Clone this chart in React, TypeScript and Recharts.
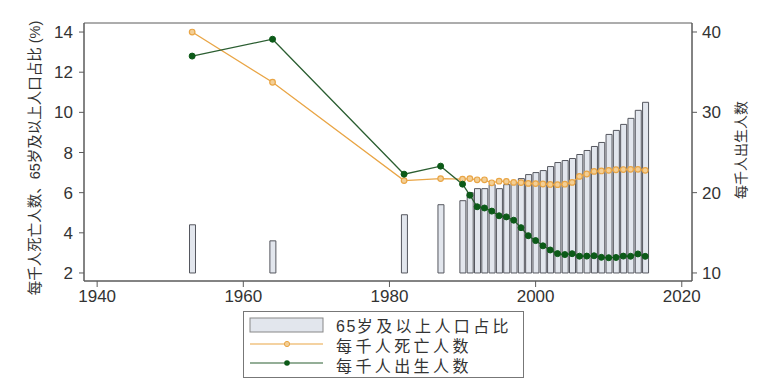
import React from "react";
import {
  ComposedChart,
  Bar,
  Line,
  XAxis,
  YAxis,
  ReferenceArea,
} from "recharts";

const years = [1953, 1964, 1982, 1987, 1990, 1991, 1992, 1993, 1994, 1995, 1996, 1997, 1998, 1999, 2000, 2001, 2002, 2003, 2004, 2005, 2006, 2007, 2008, 2009, 2010, 2011, 2012, 2013, 2014, 2015];
const agedShare = [4.4, 3.6, 4.9, 5.4, 5.6, 6.0, 6.2, 6.2, 6.4, 6.2, 6.4, 6.5, 6.7, 6.9, 7.0, 7.1, 7.3, 7.5, 7.6, 7.7, 7.9, 8.1, 8.3, 8.5, 8.9, 9.1, 9.4, 9.7, 10.1, 10.5];
const deathRate = [14.0, 11.5, 6.6, 6.7, 6.67, 6.7, 6.64, 6.64, 6.49, 6.57, 6.56, 6.51, 6.5, 6.46, 6.45, 6.43, 6.41, 6.4, 6.42, 6.51, 6.81, 6.93, 7.06, 7.08, 7.11, 7.14, 7.15, 7.16, 7.16, 7.11];
const birthRate = [37.0, 39.1, 22.3, 23.3, 21.06, 19.68, 18.24, 18.09, 17.7, 17.12, 16.98, 16.57, 15.64, 14.64, 14.03, 13.38, 12.86, 12.41, 12.29, 12.4, 12.09, 12.1, 12.14, 11.95, 11.9, 11.93, 12.1, 12.08, 12.37, 12.07];

const xTicks = [1940, 1960, 1980, 2000, 2020];
const leftTicks = [2, 4, 6, 8, 10, 12, 14];
const rightTicks = [10, 20, 30, 40];

const seriesNames = ["65岁及以上人口占比", "每千人死亡人数", "每千人出生人数"];
const leftLabel = "每千人死亡人数、65岁及以上人口占比 (%)";
const rightLabel = "每千人出生人数";

const data = years.map((y, i) => ({
  year: y,
  aged: agedShare[i],
  death: deathRate[i],
  birth: birthRate[i],
}));

const X_DOMAIN: [number, number] = [1938.2, 2021.4];
const L_DOMAIN: [number, number] = [1.6, 14.45];
const R_DOMAIN: [number, number] = [9.0, 41.12];

const BAR_FILL = "#e2e6ed";
const BAR_STROKE = "#55575f";
const ORANGE = "#e9a545";
const ORANGE_FILL = "#f3cf96";
const GREEN = "#2b5e31";
const GREEN_DOT = "#0c5a18";
const AXIS = "#5a5a5a";
const TEXT = "#333";
const FONT = "'Liberation Sans', Arial, 'Noto Sans CJK SC', sans-serif";

const digitsPart = seriesNames[0].slice(0, 2);
const cjkPart = seriesNames[0].slice(2);

const LegendBox = () => (
  <svg width={282} height={68} style={{ display: "block" }}>
    <rect x={0.5} y={0.5} width={280} height={66} fill="#fff" stroke="#777" />
    <rect x={7} y={7} width={73} height={14} fill={BAR_FILL} stroke="#888" />
    <line x1={7} y1={33} x2={80} y2={33} stroke={ORANGE} strokeWidth={1.2} />
    <circle cx={44} cy={33} r={2.6} fill={ORANGE_FILL} stroke={ORANGE} strokeWidth={1} />
    <line x1={7} y1={52} x2={80} y2={52} stroke={GREEN} strokeWidth={1.2} />
    <circle cx={44} cy={52} r={2.8} fill={GREEN_DOT} />
    <text x={93} y={21} fontSize={16} fill={TEXT} fontFamily={FONT}>
      <tspan letterSpacing={1.5}>{digitsPart}</tspan>
      <tspan letterSpacing={3.4}>{cjkPart}</tspan>
    </text>
    <text x={93} y={41} fontSize={16} fill={TEXT} fontFamily={FONT} letterSpacing={3.4}>{seriesNames[1]}</text>
    <text x={93} y={61} fontSize={16} fill={TEXT} fontFamily={FONT} letterSpacing={3.4}>{seriesNames[2]}</text>
  </svg>
);

const OrangeDot = (props: any) => {
  const { cx, cy } = props;
  if (cx == null || cy == null) return null;
  return <circle cx={cx} cy={cy} r={2.8} fill={ORANGE_FILL} stroke={ORANGE} strokeWidth={1.2} />;
};

const GreenDot = (props: any) => {
  const { cx, cy } = props;
  if (cx == null || cy == null) return null;
  return <circle cx={cx} cy={cy} r={3} fill={GREEN_DOT} stroke={GREEN_DOT} />;
};

export default function App() {
  return (
    <div style={{ position: "absolute", left: 0, top: 0, width: 778, height: 380, background: "#fff" }}>
      <ComposedChart
        width={778}
        height={380}
        data={data}
        margin={{ top: 23, right: 30, bottom: 70, left: 44 }}
        style={{ fontFamily: FONT }}
      >
        <XAxis
          dataKey="year"
          type="number"
          domain={X_DOMAIN}
          ticks={xTicks}
          allowDataOverflow
          stroke={AXIS}
          tickSize={6}
          tickMargin={3}
          height={29}
          tick={{ fontSize: 17, fill: TEXT }}
        />
        <YAxis
          yAxisId="left"
          orientation="left"
          domain={L_DOMAIN}
          ticks={leftTicks}
          allowDataOverflow
          stroke={AXIS}
          tickSize={5}
          tickMargin={6}
          width={40}
          tick={{ fontSize: 17, fill: TEXT }}
        />
        <YAxis
          yAxisId="right"
          orientation="right"
          domain={R_DOMAIN}
          ticks={rightTicks}
          allowDataOverflow
          stroke={AXIS}
          tickSize={5}
          tickMargin={5}
          width={56}
          tick={{ fontSize: 17, fill: TEXT }}
        />
        <ReferenceArea
          yAxisId="left"
          x1={X_DOMAIN[0]}
          x2={X_DOMAIN[1]}
          y1={L_DOMAIN[0]}
          y2={L_DOMAIN[1]}
          fill="none"
          stroke={AXIS}
          strokeWidth={1}
          ifOverflow="visible"
        />
        <Bar
          yAxisId="left"
          dataKey={(d: any) => [2, d.aged]}
          barSize={6}
          fill={BAR_FILL}
          stroke={BAR_STROKE}
          strokeWidth={1}
          isAnimationActive={false}
        />
        <Line
          yAxisId="left"
          dataKey="death"
          stroke={ORANGE}
          strokeWidth={1.3}
          dot={<OrangeDot />}
          activeDot={false}
          isAnimationActive={false}
        />
        <Line
          yAxisId="right"
          dataKey="birth"
          stroke={GREEN}
          strokeWidth={1.3}
          dot={<GreenDot />}
          activeDot={false}
          isAnimationActive={false}
        />
        <text
          x={35}
          y={158}
          transform="rotate(-90 35 158)"
          textAnchor="middle"
          dominantBaseline="central"
          fontSize={14.5}
          fill={TEXT}
          fontFamily={FONT}
        >
          {leftLabel}
        </text>
        <text
          x={741}
          y={150}
          transform="rotate(-90 741 150)"
          textAnchor="middle"
          dominantBaseline="central"
          fontSize={14}
          fill={TEXT}
          fontFamily={FONT}
        >
          {rightLabel}
        </text>
      </ComposedChart>
      <div style={{ position: "absolute", left: 243, top: 311, width: 282, height: 68 }}>
        <LegendBox />
      </div>
    </div>
  );
}
